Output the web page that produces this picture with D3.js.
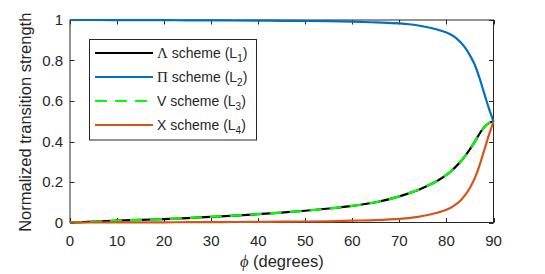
<!DOCTYPE html>
<html>
<head>
<meta charset="utf-8">
<script src="https://cdn.jsdelivr.net/npm/d3@7"></script>
<style>
  html, body { margin: 0; padding: 0; background: #fff; }
  svg { display: block; font-family: "Liberation Sans", Arial, sans-serif; }
</style>
</head>
<body>
<svg id="chart" width="545" height="274"></svg>
<script>
// ---- data ----
const phi = [0, 5, 10, 15, 20, 25, 30, 35, 40, 45, 50, 55, 60, 65, 70, 72, 74, 76, 78, 80, 81, 82, 83, 84, 85, 86, 87, 88, 89, 90];
const lambdaL1 = [0, 0.004, 0.009, 0.013, 0.017, 0.022, 0.028, 0.034, 0.041, 0.049, 0.058, 0.069, 0.082, 0.100, 0.129, 0.144, 0.161, 0.181, 0.205, 0.235, 0.254, 0.276, 0.300, 0.329, 0.362, 0.398, 0.437, 0.470, 0.491, 0.500];
const piL2     = [1, 1, 0.9995, 0.9993, 0.999, 0.9985, 0.998, 0.9975, 0.997, 0.996, 0.995, 0.994, 0.992, 0.988, 0.983, 0.979, 0.973, 0.964, 0.953, 0.938, 0.927, 0.912, 0.890, 0.862, 0.825, 0.780, 0.715, 0.640, 0.565, 0.500];
const vL3      = [0, 0.004, 0.009, 0.013, 0.017, 0.022, 0.028, 0.034, 0.041, 0.049, 0.058, 0.069, 0.082, 0.100, 0.129, 0.144, 0.161, 0.181, 0.205, 0.235, 0.254, 0.276, 0.300, 0.329, 0.362, 0.398, 0.437, 0.470, 0.491, 0.500];
const xL4      = [0, 0, 0.0005, 0.0008, 0.001, 0.0015, 0.002, 0.0025, 0.003, 0.004, 0.005, 0.006, 0.009, 0.012, 0.018, 0.022, 0.028, 0.037, 0.048, 0.063, 0.074, 0.089, 0.109, 0.136, 0.172, 0.218, 0.280, 0.355, 0.430, 0.500];
const xTicks = [0, 10, 20, 30, 40, 50, 60, 70, 80, 90];
const yTicks = [0, 0.2, 0.4, 0.6, 0.8, 1];
const legendNames = ["Λ", "Π", "V", "X"];
const legendSubs = ["1", "2", "3", "4"];

// ---- layout ----
const svg = d3.select("#chart");
const L = 70, R = 493.5, T = 20, B = 222.5;
const axisColor = "#262626";
const x = d3.scaleLinear().domain([0, 90]).range([L, R]);
const y = d3.scaleLinear().domain([0, 1]).range([B, T]);

// box + ticks
const ax = svg.append("g");
ax.append("rect").attr("x", L).attr("y", T).attr("width", R - L).attr("height", B - T)
  .attr("fill", "none").attr("stroke", axisColor).attr("stroke-width", 1);
const tl = 4.5;
xTicks.forEach(t => {
  const px = Math.round(x(t)) + 0.5;
  ax.append("line").attr("x1", px).attr("x2", px).attr("y1", B).attr("y2", B - tl).attr("stroke", axisColor);
  ax.append("line").attr("x1", px).attr("x2", px).attr("y1", T).attr("y2", T + tl).attr("stroke", axisColor);
  ax.append("text").attr("x", x(t)).attr("y", 246).attr("text-anchor", "middle")
    .attr("font-size", 15).attr("fill", axisColor).text(t);
});
yTicks.forEach(t => {
  const py = Math.round(y(t)) + 0.5;
  ax.append("line").attr("x1", L).attr("x2", L + tl).attr("y1", py).attr("y2", py).attr("stroke", axisColor);
  ax.append("line").attr("x1", R).attr("x2", R - tl).attr("y1", py).attr("y2", py).attr("stroke", axisColor);
  ax.append("text").attr("x", 63).attr("y", y(t) + 5.3).attr("text-anchor", "end")
    .attr("font-size", 15).attr("fill", axisColor).text(d3.format("~g")(t));
});

// axis labels
const xl = svg.append("text").attr("x", (L + R) / 2).attr("y", 267).attr("text-anchor", "middle")
  .attr("font-size", 16.5).attr("fill", axisColor);
xl.append("tspan").attr("font-family", "'Liberation Serif', 'DejaVu Serif', serif").attr("font-style", "italic").text("ϕ");
xl.append("tspan").text(" (degrees)");
svg.append("text").attr("transform", `translate(31,${(T + B) / 2 + 1}) rotate(-90)`)
  .attr("text-anchor", "middle").attr("font-size", 16.5).attr("fill", axisColor)
  .text("Normalized transition strength");

// lines
const line = d3.line().x((d, i) => x(phi[i])).y(d => y(d)).curve(d3.curveMonotoneX);
const series = [
  { v: lambdaL1, color: "#000000", dash: null },
  { v: piL2, color: "#0072BD", dash: null },
  { v: vL3, color: "#00FF00", dash: "12,8" },
  { v: xL4, color: "#D95319", dash: null }
];
series.forEach(s => {
  svg.append("path").attr("d", line(s.v)).attr("fill", "none")
    .attr("stroke", s.color).attr("stroke-width", 2.2)
    .attr("stroke-dasharray", s.dash);
});

// legend
const lg = svg.append("g");
lg.append("rect").attr("x", 89.5).attr("y", 39.5).attr("width", 167).attr("height", 100.5)
  .attr("fill", "#fff").attr("stroke", axisColor).attr("stroke-width", 1);
series.forEach((s, i) => {
  const cy = 53 + i * 24;
  lg.append("line").attr("x1", 95).attr("x2", 153).attr("y1", cy).attr("y2", cy)
    .attr("stroke", s.color).attr("stroke-width", 2.2).attr("stroke-dasharray", s.dash);
  const t = lg.append("text").attr("x", 157).attr("y", cy + 5).attr("font-size", 14).attr("fill", axisColor);
  const greek = legendNames[i] === "Λ" || legendNames[i] === "Π";
  t.append("tspan").attr("font-family", greek ? "'Liberation Serif', 'DejaVu Serif', serif" : null)
    .attr("font-size", greek ? 15 : 14).text(legendNames[i]);
  t.append("tspan").text(" scheme (L");
  t.append("tspan").attr("font-size", 10).attr("dy", 4).text(legendSubs[i]);
  t.append("tspan").attr("dy", -4).text(")");
});
</script>
</body>
</html>
